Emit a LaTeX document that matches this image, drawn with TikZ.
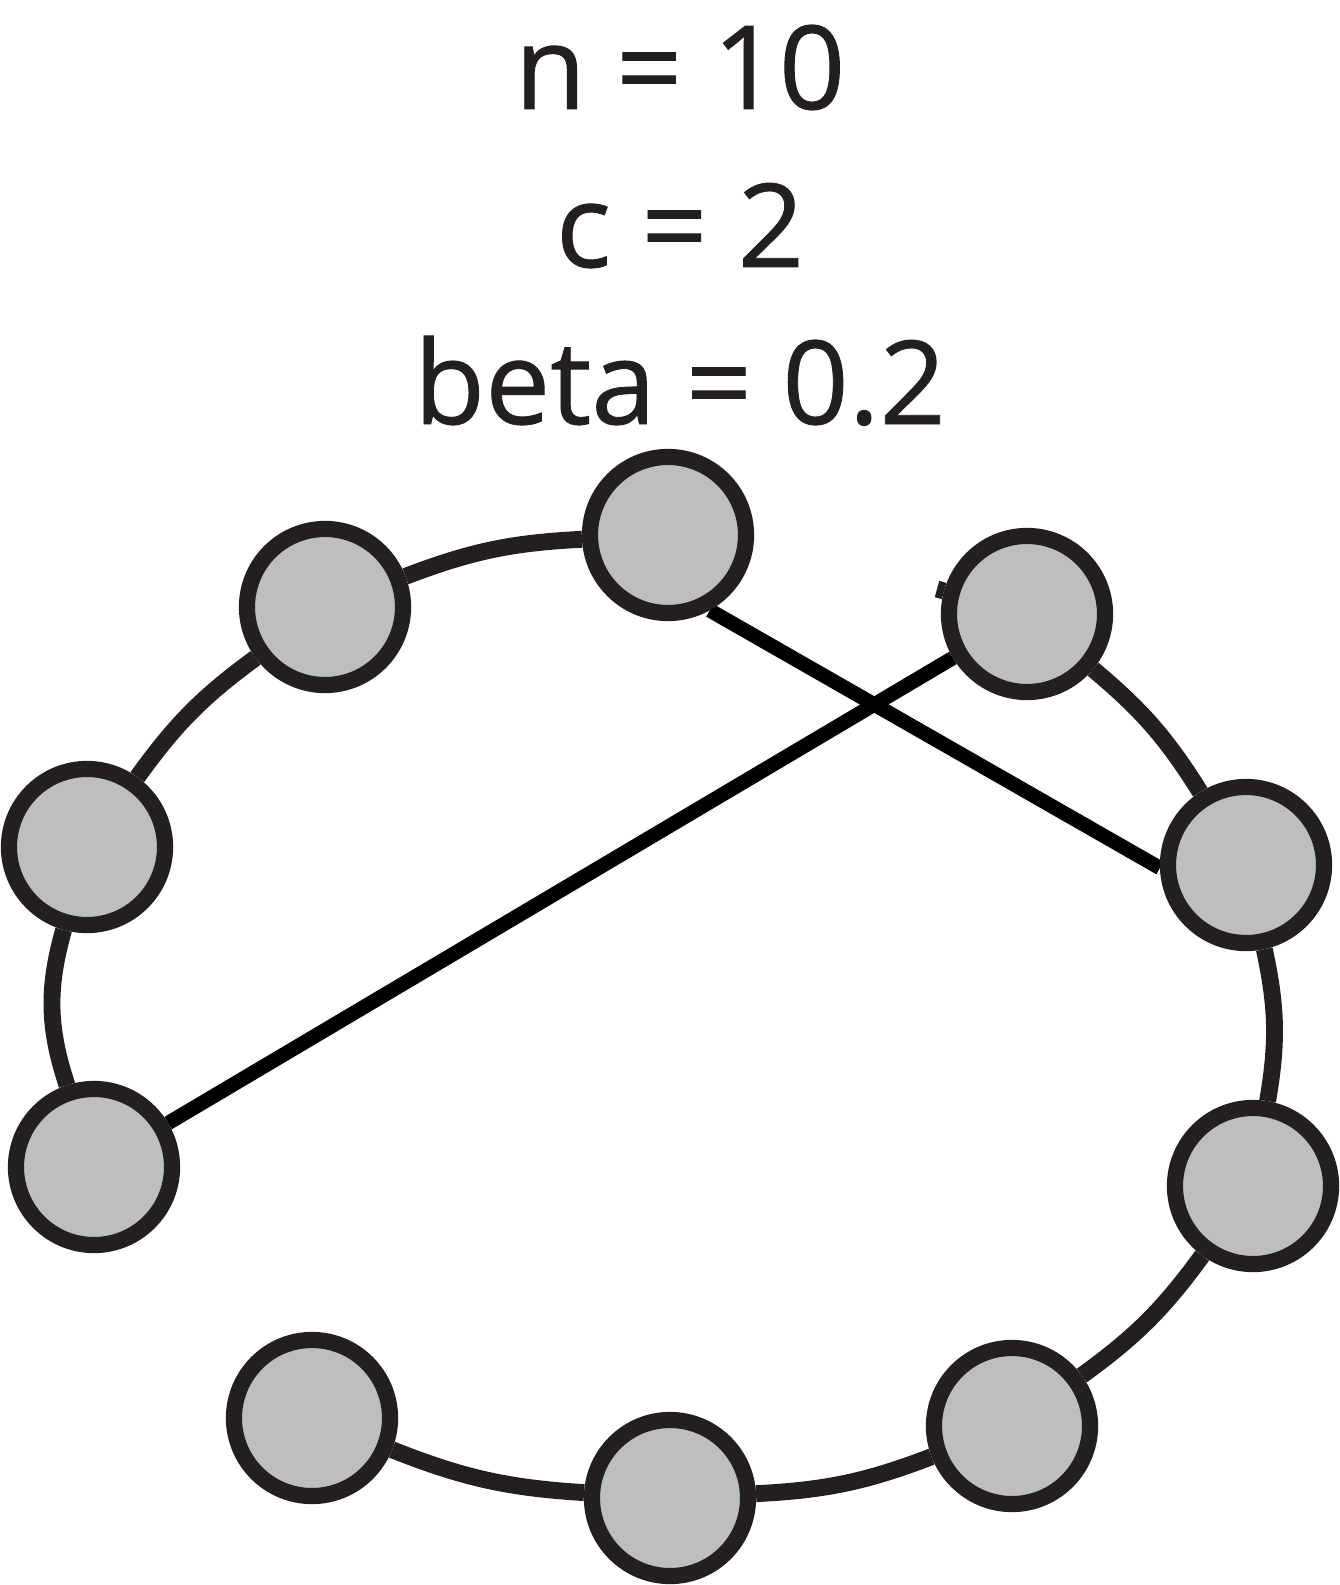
\documentclass[tikz,border=0pt]{standalone}
\usepackage{fontspec}
\setmainfont{Open Sans}
\newfontfamily\paramfont{Open Sans}[FakeBold=0.7]
\usetikzlibrary{backgrounds}
\definecolor{ringDark}{RGB}{35,31,32}
\definecolor{ringGrey}{RGB}{188,190,192}
\tikzset{
  vertex/.style={
    circle, draw=ringDark, fill=ringGrey, line width=4.6pt,
    minimum size=1.56cm, inner sep=0pt},
  ringedge/.style={draw=ringDark, line width=4.8pt},
  shortcut/.style={draw=black, line width=4.1pt},
  paramlabel/.style={
    anchor=base, inner sep=0pt, text=ringDark,
    font=\paramfont\fontsize{33}{40}\selectfont}
}

\begin{document}
\begin{tikzpicture}[x=0.01cm, y=-0.01cm]
  \useasboundingbox (0,0) rectangle (1340,1585);

  % ---- model parameters ----------------------------------------
  \node[paramlabel] (nlab) at (680,109) {n = 10};
  \node[paramlabel] (clab) at (680,267) {c = 2};
  \node[paramlabel] (blab) at (680,424) {beta = 0.2};

  % ---- ring vertices -------------------------------------------
  \node[vertex] (v1)  at (668,535)  {};
  \node[vertex] (v2)  at (325,607)  {};
  \node[vertex] (v3)  at (87,847)   {};
  \node[vertex] (v4)  at (94,1167)  {};
  \node[vertex] (v5)  at (312,1418) {};
  \node[vertex] (v6)  at (670,1498) {};
  \node[vertex] (v7)  at (1012,1426) {};
  \node[vertex] (v8)  at (1253,1186) {};
  \node[vertex] (v9)  at (1246,865) {};
  \node[vertex] (v10) at (1027,614) {};
  \coordinate (stub) at (937,589);

  % ---- ring edges and rewired shortcuts ------------------------
  \begin{scope}[on background layer]
    \draw[ringedge] (v1) to[bend right=9] (v2);
    \draw[ringedge] (v2) to[bend right=9] (v3);
    \draw[ringedge] (v3) to[bend right=17] (v4);
    \draw[ringedge] (v5) to[bend right=9] (v6);
    \draw[ringedge] (v6) to[bend right=9] (v7);
    \draw[ringedge] (v7) to[bend right=9] (v8);
    \draw[ringedge] (v8) to[bend right=11] (v9);
    \draw[ringedge] (v9) to[bend right=9] (v10);
    \draw[ringedge] (v10) -- (stub);

    \draw[shortcut] (v1.-61) -- (v9.182);
    \draw[shortcut] (v4) -- (v10);
  \end{scope}

\end{tikzpicture}
\end{document}
